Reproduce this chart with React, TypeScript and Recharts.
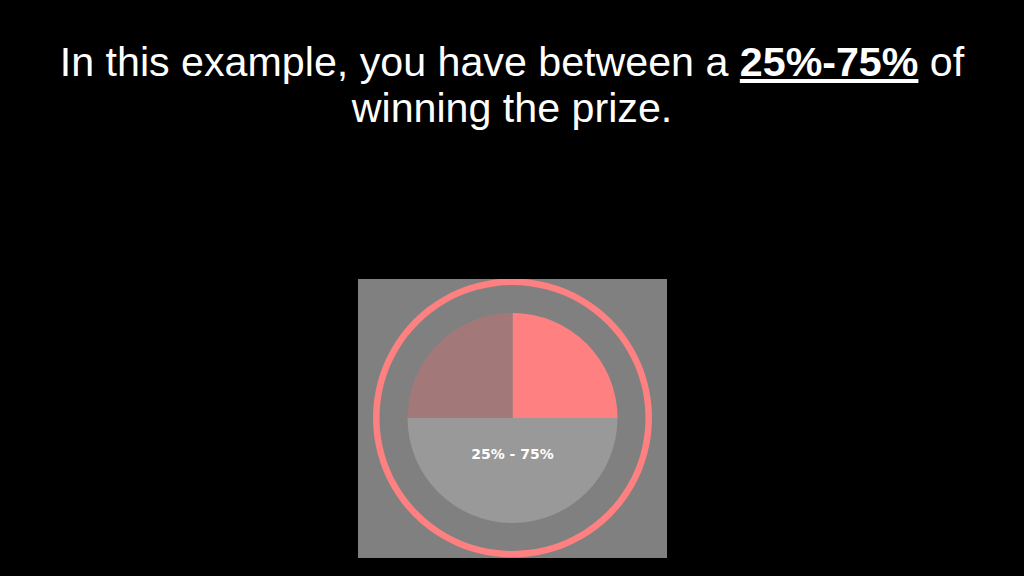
import React from "react";
import { PieChart, Pie, Cell } from "recharts";

const slices = ["low", "range", "rest"];
const sliceValues = [25, 50, 25];
const sliceColors = ["#ff8080", "#999999", "#a27878"];
const ringValues = [100];
const rangeLabel = "25% - 75%";

const data = slices.map((name, i) => ({ name, value: sliceValues[i] }));
const ring = ringValues.map((value) => ({ name: "ring", value }));

function RangeLabel({ cx, cy, index }: any) {
  // only one label, sat in the lower half
  if (index !== 1) return null;
  return (
    <text
      x={cx}
      y={cy + 36}
      fill="#ffffff"
      textAnchor="middle"
      dominantBaseline="central"
      fontFamily="DejaVu Sans"
      fontWeight="bold"
      fontSize={14}
    >
      {rangeLabel}
    </text>
  );
}

export default function App() {
  return (
    <div
      style={{
        position: "absolute",
        left: 0,
        top: 0,
        width: 1024,
        height: 576,
        background: "#000000",
        overflow: "hidden",
      }}
    >
      <div
        style={{
          position: "absolute",
          left: 0,
          top: 39,
          width: 1024,
          textAlign: "center",
          color: "#ffffff",
          fontFamily: "'Liberation Sans', Arial, sans-serif",
          fontSize: 41.2,
          lineHeight: "46px",
        }}
      >
        In this example, you have between a{" "}
        <b style={{ textDecoration: "underline" }}>25%-75%</b> of
        <br />
        winning the prize.
      </div>
      <div style={{ position: "absolute", left: 358, top: 279 }}>
        <PieChart
          width={309}
          height={279}
          style={{ background: "#808080" }}
          margin={{ top: 0, right: 0, bottom: 0, left: 0 }}
        >
          <Pie
            data={ring}
            dataKey="value"
            cx={154.5}
            cy={139}
            innerRadius={133}
            outerRadius={139.5}
            startAngle={90}
            endAngle={-270}
            stroke="none"
            fill="#ff8080"
            isAnimationActive={false}
          />
          <Pie
            data={data}
            dataKey="value"
            cx={154.5}
            cy={139}
            innerRadius={0}
            outerRadius={105}
            startAngle={90}
            endAngle={-270}
            stroke="none"
            label={RangeLabel}
            labelLine={false}
            isAnimationActive={false}
          >
            {data.map((d, i) => (
              <Cell key={d.name} fill={sliceColors[i]} />
            ))}
          </Pie>
        </PieChart>
      </div>
    </div>
  );
}
